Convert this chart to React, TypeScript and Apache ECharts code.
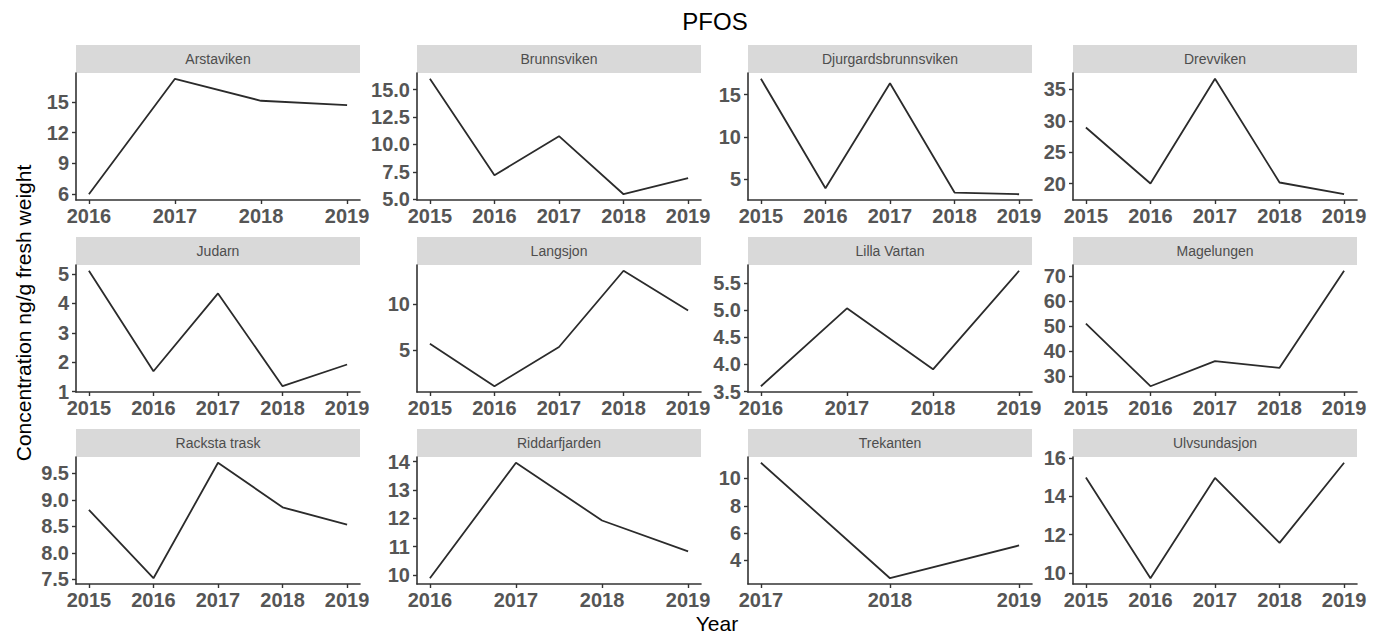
import React, { useEffect, useRef } from "react";
import * as echarts from "echarts";

// ---- Data ----
const arstavikenYears = [2016, 2017, 2018, 2019];
const arstavikenValues = [6.0, 17.24, 15.1, 14.67];
const arstavikenTicks = ["6", "9", "12", "15"];

const brunnsvikenYears = [2015, 2016, 2017, 2018, 2019];
const brunnsvikenValues = [16.0, 7.19, 10.76, 5.46, 6.93];
const brunnsvikenTicks = ["5.0", "7.5", "10.0", "12.5", "15.0"];

const djurgardsYears = [2015, 2016, 2017, 2018, 2019];
const djurgardsValues = [16.86, 3.93, 16.34, 3.42, 3.22];
const djurgardsTicks = ["5", "10", "15"];

const drevvikenYears = [2015, 2016, 2017, 2018, 2019];
const drevvikenValues = [28.93, 20.0, 36.7, 20.16, 18.29];
const drevvikenTicks = ["20", "25", "30", "35"];

const judarnYears = [2015, 2016, 2017, 2018, 2019];
const judarnValues = [5.11, 1.69, 4.34, 1.18, 1.92];
const judarnTicks = ["1", "2", "3", "4", "5"];

const langsjonYears = [2015, 2016, 2017, 2018, 2019];
const langsjonValues = [5.71, 1.14, 5.36, 13.57, 9.29];
const langsjonTicks = ["5", "10"];

const lillaVartanYears = [2016, 2017, 2018, 2019];
const lillaVartanValues = [3.6, 5.03, 3.91, 5.72];
const lillaVartanTicks = ["3.5", "4.0", "4.5", "5.0", "5.5"];

const magelungenYears = [2015, 2016, 2017, 2018, 2019];
const magelungenValues = [50.93, 26.0, 36.0, 33.33, 72.0];
const magelungenTicks = ["30", "40", "50", "60", "70"];

const rackstaYears = [2015, 2016, 2017, 2018, 2019];
const rackstaValues = [8.81, 7.52, 9.7, 8.86, 8.53];
const rackstaTicks = ["7.5", "8.0", "8.5", "9.0", "9.5"];

const riddarfjardenYears = [2016, 2017, 2018, 2019];
const riddarfjardenValues = [9.88, 13.96, 11.92, 10.83];
const riddarfjardenTicks = ["10", "11", "12", "13", "14"];

const trekantenYears = [2017, 2018, 2019];
const trekantenValues = [11.15, 2.7, 5.1];
const trekantenTicks = ["4", "6", "8", "10"];

const ulvsundasjonYears = [2015, 2016, 2017, 2018, 2019];
const ulvsundasjonValues = [14.97, 9.72, 14.95, 11.56, 15.74];
const ulvsundasjonTicks = ["10", "12", "14", "16"];

const panelNames = [
  "Arstaviken", "Brunnsviken", "Djurgardsbrunnsviken", "Drevviken",
  "Judarn", "Langsjon", "Lilla Vartan", "Magelungen",
  "Racksta trask", "Riddarfjarden", "Trekanten", "Ulvsundasjon",
];
const panelYears = [
  arstavikenYears, brunnsvikenYears, djurgardsYears, drevvikenYears,
  judarnYears, langsjonYears, lillaVartanYears, magelungenYears,
  rackstaYears, riddarfjardenYears, trekantenYears, ulvsundasjonYears,
];
const panelValues = [
  arstavikenValues, brunnsvikenValues, djurgardsValues, drevvikenValues,
  judarnValues, langsjonValues, lillaVartanValues, magelungenValues,
  rackstaValues, riddarfjardenValues, trekantenValues, ulvsundasjonValues,
];
const panelTicks = [
  arstavikenTicks, brunnsvikenTicks, djurgardsTicks, drevvikenTicks,
  judarnTicks, langsjonTicks, lillaVartanTicks, magelungenTicks,
  rackstaTicks, riddarfjardenTicks, trekantenTicks, ulvsundasjonTicks,
];

const chartTitle = "PFOS";
const xTitle = "Year";
const yTitle = "Concentration ng/g fresh weight";

// ---- Layout ----
const colLeft = [76, 417, 748, 1073];
const rowTop = [73, 265, 457];
const PW = 284;
const PH = 127;
const STRIP = 28;
const FONT = "'Liberation Sans', Arial, sans-serif";
const AXIS_COLOR = "#333333";
const LABEL_COLOR = "#555555";

function buildOption() {
  const grid: any[] = [];
  const xAxis: any[] = [];
  const yAxis: any[] = [];
  const series: any[] = [];
  const graphic: any[] = [];

  panelNames.forEach((name, i) => {
    const left = colLeft[i % 4];
    const top = rowTop[Math.floor(i / 4)];
    const years = panelYears[i];
    const vals = panelValues[i];
    const ticks = panelTicks[i];
    const tickVals = ticks.map(Number);

    grid.push({ left, top, width: PW, height: PH });

    const x0 = years[0];
    const x1 = years[years.length - 1];
    const xpad = (x1 - x0) * 0.05;
    const vmin = Math.min(...vals);
    const vmax = Math.max(...vals);
    const ypad = (vmax - vmin) * 0.05;

    xAxis.push({
      type: "value",
      gridIndex: i,
      min: x0 - xpad,
      max: x1 + xpad,
      splitLine: { show: false },
      axisLine: { show: true, onZero: false, lineStyle: { color: AXIS_COLOR, width: 1.6 } },
      axisTick: { show: true, customValues: years, length: 4, lineStyle: { color: AXIS_COLOR, width: 1.4 } },
      axisLabel: {
        customValues: years,
        formatter: (v: number) => String(Math.round(v)),
        fontSize: 20,
        fontWeight: "bold",
        fontFamily: FONT,
        color: LABEL_COLOR,
        margin: 6,
      },
    });

    yAxis.push({
      type: "value",
      gridIndex: i,
      min: vmin - ypad,
      max: vmax + ypad,
      splitLine: { show: false },
      axisLine: { show: true, onZero: false, lineStyle: { color: AXIS_COLOR, width: 1.6 } },
      axisTick: { show: true, customValues: tickVals, length: 4, lineStyle: { color: AXIS_COLOR, width: 1.4 } },
      axisLabel: {
        customValues: tickVals,
        formatter: (v: number) => {
          const k = tickVals.findIndex((t) => Math.abs(t - v) < 1e-9);
          return k >= 0 ? ticks[k] : String(v);
        },
        fontSize: 20,
        fontWeight: "bold",
        fontFamily: FONT,
        color: LABEL_COLOR,
        margin: 7,
      },
    });

    series.push({
      type: "line",
      xAxisIndex: i,
      yAxisIndex: i,
      data: years.map((y, k) => [y, vals[k]]),
      showSymbol: false,
      symbol: "none",
      silent: true,
      lineStyle: { color: "#2b2b2b", width: 1.8 },
    });

    graphic.push({
      type: "rect",
      shape: { x: left, y: top - STRIP, width: PW, height: STRIP },
      style: { fill: "#d9d9d9" },
      silent: true,
    });
    graphic.push({
      type: "text",
      x: left + PW / 2,
      y: top - STRIP / 2,
      style: {
        text: name,
        fill: "#4d4d4d",
        fontSize: 14,
        fontFamily: FONT,
        textAlign: "center",
        textVerticalAlign: "middle",
        align: "center",
        verticalAlign: "middle",
      },
      silent: true,
    });
  });

  graphic.push({
    type: "text",
    x: 715,
    y: 21,
    style: {
      text: chartTitle, fill: "#000", fontSize: 24, fontFamily: FONT,
      textAlign: "center", textVerticalAlign: "middle", align: "center", verticalAlign: "middle",
    },
  });
  graphic.push({
    type: "text",
    x: 717,
    y: 623,
    style: {
      text: xTitle, fill: "#000", fontSize: 21, fontFamily: FONT,
      textAlign: "center", textVerticalAlign: "middle", align: "center", verticalAlign: "middle",
    },
  });
  graphic.push({
    type: "text",
    x: 23,
    y: 313,
    rotation: Math.PI / 2,
    style: {
      text: yTitle, fill: "#000", fontSize: 21, fontFamily: FONT,
      textAlign: "center", textVerticalAlign: "middle", align: "center", verticalAlign: "middle",
    },
  });

  return {
    animation: false,
    backgroundColor: "#ffffff",
    grid,
    xAxis,
    yAxis,
    series,
    graphic,
  };
}

export default function App() {
  const ref = useRef<HTMLDivElement>(null);
  useEffect(() => {
    if (!ref.current) return;
    const chart = echarts.init(ref.current, null, { renderer: "svg" });
    chart.setOption(buildOption() as any);
    return () => chart.dispose();
  }, []);
  return (
    <div
      ref={ref}
      style={{ position: "fixed", left: 0, top: 0, width: 1381, height: 636, background: "#fff" }}
    />
  );
}
